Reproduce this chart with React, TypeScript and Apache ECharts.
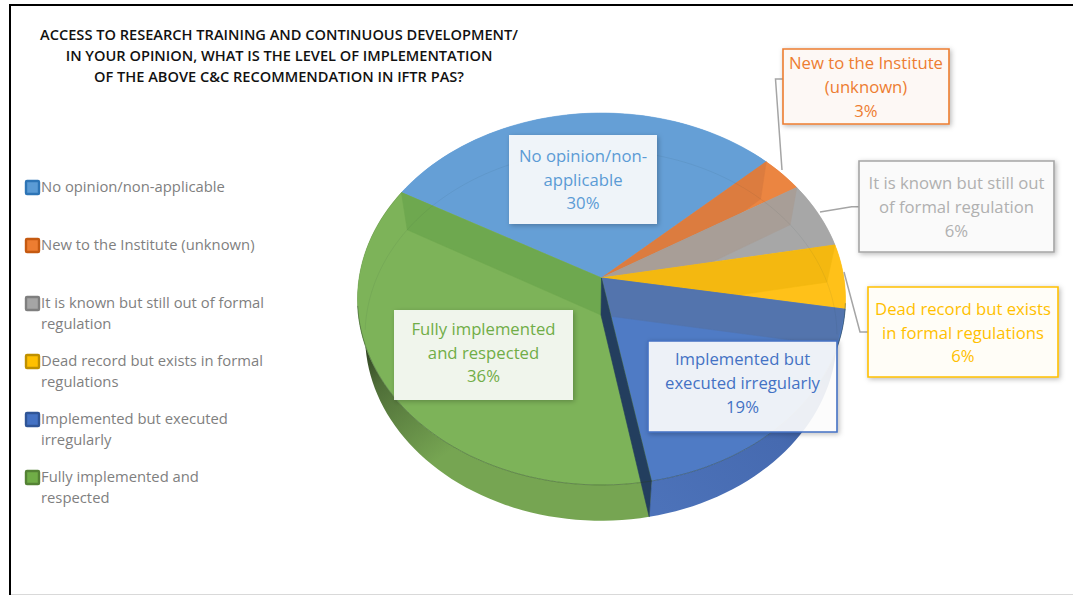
import React, { useEffect, useRef } from "react";
import * as echarts from "echarts";

const titleLines = [
  "ACCESS TO RESEARCH TRAINING AND CONTINUOUS DEVELOPMENT/",
  "IN YOUR OPINION, WHAT IS THE LEVEL OF IMPLEMENTATION",
  "OF THE ABOVE C&C RECOMMENDATION IN IFTR PAS?",
];
const categories = [
  "No opinion/non-applicable",
  "New to the Institute (unknown)",
  "It is known but still out of formal regulation",
  "Dead record but exists in formal regulations",
  "Implemented but executed irregularly",
  "Fully implemented and respected",
];
// Each rounds to the printed label (30, 3, 6, 6, 19, 36 %).
const values = [29.9, 3.2, 5.8, 5.6, 19.4, 36.1];
const legendLines = [
  ["No opinion/non-applicable"],
  ["New to the Institute (unknown)"],
  ["It is known but still out of formal", "regulation"],
  ["Dead record but exists in formal", "regulations"],
  ["Implemented but executed", "irregularly"],
  ["Fully implemented and", "respected"],
];
const labelLines = [
  ["No opinion/non-", "applicable"],
  ["New to the Institute", "(unknown)"],
  ["It is known but still out", "of formal regulation"],
  ["Dead record but exists", "in formal regulations"],
  ["Implemented but", "executed irregularly"],
  ["Fully implemented", "and respected"],
];

const topFace = ["#659fd6", "#eb8541", "#a7a7a7", "#ffc119", "#4f7bc5", "#7db359"];
const wallFace = ["", "#dc7c3f", "#a89e97", "#f4b810", "#5374ad", "#6ea84f"];
const legendBorder = ["#2e75b6", "#c55a11", "#7f7f7f", "#bf9000", "#2f5597", "#548235"];
const legendFill = ["#5b9bd5", "#ed7d31", "#a5a5a5", "#ffc000", "#4472c4", "#70ad47"];
const labelColor = ["#5b9bd5", "#ed7d31", "#b0b0b0", "#ffc000", "#4472c4", "#70ad47"];
const labelBorder = ["", "#ed7d31", "#a5a5a5", "#ffc000", "#4472c4", ""];
const labelFill = [
  "rgba(255,255,255,0.89)",
  "rgba(253,248,245,1)",
  "rgba(250,250,250,1)",
  "rgba(255,253,247,1)",
  "rgba(255,255,255,0.89)",
  "rgba(255,255,255,0.88)",
];
const labelBox = [
  [509, 135, 148, 89],
  [783, 49, 166, 75],
  [859, 161, 195, 91],
  [868, 287, 190, 90],
  [648, 341, 189, 91],
  [394, 310, 179, 90],
];
const labelShift = [-0.5, 0, 0, 0, -4, -3];
const leaders = [
  null,
  [[783, 79], [775.5, 79], [782, 170]],
  [[859, 206.7], [851.7, 206.7], [820, 212]],
  [[868, 332], [860, 332], [844, 272]],
  null,
  null,
];

const START = 150.6;
const rad = (d: number) => (d * Math.PI) / 180;

// Perspective views of the pie's upper and lower discs.
const upper = { cx: 601.5, cy: 278, a: 183.6, b: 242.4, k: 0.113 };
const lower = { cx: 601, cy: 315, a: 183, b: 234.5, k: 0.1105 };
type Disc = typeof upper;
const pt = (d: Disc, deg: number): number[] => {
  const u = Math.cos(rad(deg));
  const v = Math.sin(rad(deg));
  const w = 1 + d.k * v;
  return [d.cx + (d.b * u) / w, d.cy - (d.a * v) / w];
};
const arc = (d: Disc, from: number, to: number): number[][] => {
  const n = Math.max(2, Math.ceil(Math.abs(from - to) / 2));
  const out: number[][] = [];
  for (let i = 0; i <= n; i++) out.push(pt(d, from + ((to - from) * i) / n));
  return out;
};

const total = values.reduce((s, v) => s + v, 0);
const spanOf = (i: number) => {
  let acc = 0;
  for (let j = 0; j < i; j++) acc += values[j];
  const from = START - (acc / total) * 360;
  return [from, from - (values[i] / total) * 360];
};

const grad = (x0: number, y0: number, x1: number, y1: number, stops: [number, string][]) =>
  new echarts.graphic.LinearGradient(x0, y0, x1, y1, stops.map(([offset, color]) => ({ offset, color })), true);

const bandFill = (i: number): any => {
  if (i === 5) {
    return grad(362, 345, 445, 455, [
      [0, "#2b3c1f"],
      [0.3, "#4f6e38"],
      [1, "#76a552"],
    ]);
  }
  if (i === 4) {
    return grad(660, 510, 842, 345, [
      [0, "#4c72b9"],
      [0.55, "#466ab0"],
      [0.82, "#3a5a98"],
      [1, "#1c3766"],
    ]);
  }
  return topFace[i];
};

const poly = (points: number[][], fill: any, stroke: any = fill) => ({
  type: "polygon",
  shape: { points },
  style: { fill, stroke, lineWidth: 0.6 },
});
const line = (points: number[][], stroke: string, lineWidth = 1) => ({
  type: "polyline",
  shape: { points },
  style: { stroke, lineWidth, fill: "none" },
  silent: true,
});

// Side wall of the pie, seen along the front rim.
const renderBand = (params: any) => {
  const [from, to] = spanOf(params.dataIndex);
  const points = [...arc(upper, from, to), ...arc(lower, to, from)];
  return poly(points, bandFill(params.dataIndex), "none");
};

// Upper face of a slice and the translucent cut wall seen through it.
const renderFace = (params: any) => {
  const i = params.dataIndex;
  const [from, to] = spanOf(i);
  const foot = [lower.cx, lower.cy];
  const children: any[] = [poly([[upper.cx, upper.cy], ...arc(upper, from, to)], topFace[i])];
  if (wallFace[i]) {
    const edge = i === 5 ? to : from;
    children.push(poly([[upper.cx, upper.cy], pt(upper, edge), pt(lower, edge), foot], wallFace[i]));
  }
  return { type: "group", children };
};

// Parts that lie over every face: the dark cut wall and the rims.
const renderOverlay = (params: any) => {
  const i = params.dataIndex;
  const [from, to] = spanOf(i);
  const children: any[] = [];
  if (i === 4) {
    children.push(poly([[upper.cx, upper.cy], pt(upper, to), pt(lower, to), [lower.cx, lower.cy]], "#233e5e"));
  }
  children.push(line(arc(lower, from, to).filter((p) => p[1] < 335), "rgba(30,50,60,0.07)"));
  const front = arc(upper, from, to).filter((p) => p[1] > 300);
  if (front.length > 1) children.push(line(front, "rgba(40,60,40,0.5)", 0.8));
  return { type: "group", children };
};

const App = () => {
  const ref = useRef<HTMLDivElement>(null);
  useEffect(() => {
    document.body.style.margin = "0";
    document.body.style.background = "#fff";
    const chart = echarts.init(ref.current!, undefined, { renderer: "svg" });
    const textFont = "'Open Sans', sans-serif";
    const elements: any[] = [
      { type: "rect", z: 1, shape: { x: 9, y: 4, width: 2, height: 591 }, style: { fill: "#000" } },
      { type: "rect", z: 1, shape: { x: 9, y: 4, width: 1064, height: 2 }, style: { fill: "#000" } },
      { type: "rect", z: 1, shape: { x: 11, y: 594, width: 1062, height: 1 }, style: { fill: "#d9d9d9" } },
    ];
    titleLines.forEach((t, i) => {
      elements.push({
        type: "text",
        z: 20,
        x: 279,
        y: [33.5, 54.5, 76][i],
        style: { text: t, fill: "#111", font: "600 14.6px 'Open Sans', sans-serif", textAlign: "center", textVerticalAlign: "middle" },
      });
    });
    categories.forEach((_, i) => {
      const y = 187 + i * 58;
      elements.push({
        type: "rect",
        z: 20,
        shape: { x: 26, y: y - 6, width: 13, height: 13, r: 1 },
        style: { fill: legendFill[i], stroke: legendBorder[i], lineWidth: 2.4 },
      });
      legendLines[i].forEach((t, j) => {
        elements.push({
          type: "text",
          z: 20,
          x: 41,
          y: y - 1 + j * 21,
          style: { text: t, fill: "#7f7f7f", font: `14.8px ${textFont}`, textAlign: "left", textVerticalAlign: "middle" },
        });
      });
      const lead = leaders[i];
      if (lead) {
        elements.push({ type: "polyline", z: 30, shape: { points: lead }, style: { stroke: "#a5a5a5", lineWidth: 1.5, fill: "none" } });
      }
      const [bx, by, bw, bh] = labelBox[i];
      elements.push({
        type: "rect",
        z: 31,
        shape: { x: bx, y: by, width: bw, height: bh },
        style: {
          fill: labelFill[i],
          stroke: labelBorder[i] || "none",
          lineWidth: labelBorder[i] ? 1.6 : 0,
          shadowBlur: 5,
          shadowOffsetX: 1.5,
          shadowOffsetY: 1.5,
          shadowColor: "rgba(0,0,0,0.28)",
        },
      });
      const rows = [...labelLines[i], `${Math.round(values[i])}%`];
      rows.forEach((t, j) => {
        elements.push({
          type: "text",
          z: 32,
          x: bx + bw / 2,
          y: by + bh / 2 + labelShift[i] + (j - 1) * 23.7,
          style: { text: t, fill: labelColor[i], font: `16.7px ${textFont}`, textAlign: "center", textVerticalAlign: "middle" },
        });
      });
    });
    const data = values.map((v, i) => ({ name: categories[i], value: v }));
    const base = { type: "custom", coordinateSystem: "none", silent: true, data, encode: { value: 0 } };
    chart.setOption({
      animation: false,
      backgroundColor: "#fff",
      series: [
        { ...base, name: "side", z: 2, renderItem: renderBand },
        { ...base, name: "face", z: 3, renderItem: renderFace },
        { ...base, name: "rim", z: 4, renderItem: renderOverlay },
      ],
      graphic: { elements },
    });
    return () => chart.dispose();
  }, []);
  return <div ref={ref} style={{ position: "absolute", left: 0, top: 0, width: 1073, height: 595 }} />;
};

export default App;
